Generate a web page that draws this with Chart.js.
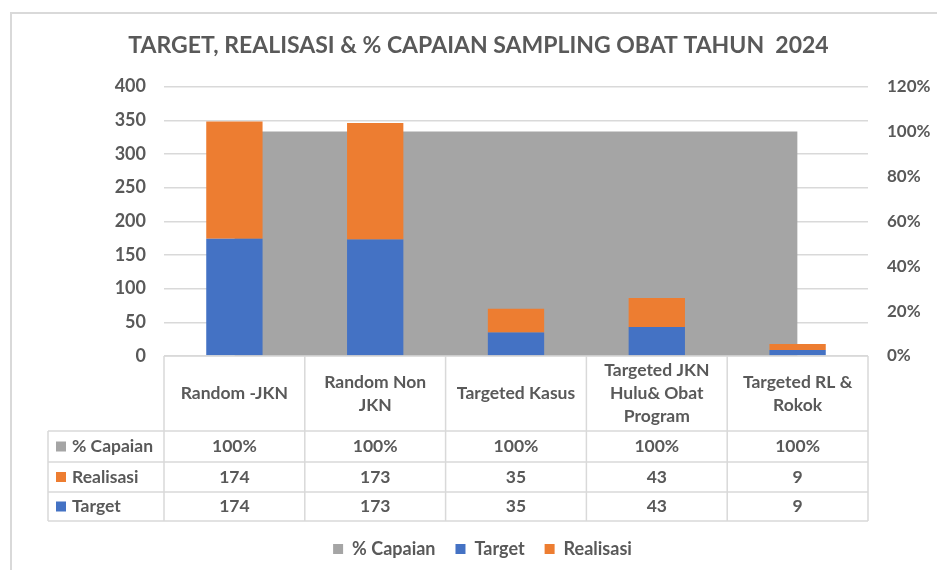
<!DOCTYPE html>
<html>
<head>
<meta charset="utf-8">
<script src="https://cdn.jsdelivr.net/npm/chart.js@4.4.0/dist/chart.umd.min.js"></script>
<style>
  html, body { margin: 0; padding: 0; background: #fff; }
  canvas { display: block; }
</style>
</head>
<body>
<canvas id="samplingChart" width="937" height="570"></canvas>
<script>
// Data
const categories = [['Random -JKN'], ['Random Non', 'JKN'], ['Targeted Kasus'], ['Targeted JKN', 'Hulu& Obat', 'Program'], ['Targeted RL &', 'Rokok']];
const target = [174, 173, 35, 43, 9];
const realisasi = [174, 173, 35, 43, 9];
const capaian = [100, 100, 100, 100, 100];
const leftTicks = [0, 50, 100, 150, 200, 250, 300, 350, 400];
const rightTicks = [0, 20, 40, 60, 80, 100, 120];

const textColor = '#595959';
const gridColor = '#D9D9D9';
const colors = { capaian: '#A5A5A5', target: '#4472C4', realisasi: '#ED7D31' };
const fontFamily = 'Lato, "Open Sans", sans-serif';

// frame round the chart
const framePlugin = {
    id: 'frame',
    beforeDraw(chart) {
        const ctx = chart.ctx;
        ctx.save();
        ctx.fillStyle = '#fff';
        ctx.fillRect(0, 0, chart.width, chart.height);
        ctx.strokeStyle = gridColor;
        ctx.lineWidth = 2;
        ctx.beginPath();
        ctx.moveTo(11, chart.height);
        ctx.lineTo(11, 13);
        ctx.lineTo(chart.width, 13);
        ctx.stroke();
        ctx.restore();
    }
};

// title and legend sit a bit right of the canvas centre
const shiftPlugin = {
    id: 'shiftBoxes',
    afterLayout(chart) {
        if (chart.titleBlock) { chart.titleBlock.left += 20; chart.titleBlock.right += 0; }
        if (chart.legend) { chart.legend.left += 14; chart.legend.right += 14; }
    }
};

// data table under the plot
const tablePlugin = {
    id: 'dataTable',
    afterDraw(chart) {
        const ctx = chart.ctx;
        const area = chart.chartArea;
        const x = chart.scales.x;
        const step = (area.right - area.left) / categories.length;
        const top = area.bottom;
        const rowY = [top, top + 75, top + 106, top + 136, top + 165];
        const labelLeft = 48;

        ctx.save();
        ctx.strokeStyle = gridColor;
        ctx.lineWidth = 1.5;
        ctx.beginPath();
        // horizontal lines
        ctx.moveTo(area.left, rowY[0]); ctx.lineTo(area.right, rowY[0]);
        for (let r = 1; r < rowY.length; r++) {
            ctx.moveTo(labelLeft, rowY[r]); ctx.lineTo(area.right, rowY[r]);
        }
        // vertical lines
        for (let c = 0; c <= categories.length; c++) {
            const px = area.left + c * step;
            ctx.moveTo(px, rowY[0]); ctx.lineTo(px, rowY[4]);
        }
        ctx.moveTo(labelLeft, rowY[1]); ctx.lineTo(labelLeft, rowY[4]);
        ctx.stroke();

        ctx.fillStyle = textColor;
        ctx.font = 'bold 17.5px ' + fontFamily;
        ctx.textAlign = 'center';
        ctx.textBaseline = 'middle';

        // header
        const headMid = (rowY[0] + rowY[1]) / 2;
        categories.forEach((lines, i) => {
            const cx = x.getPixelForValue(i);
            const lh = 23;
            const startY = headMid - (lines.length - 1) * lh / 2;
            lines.forEach((line, j) => ctx.fillText(line, cx, startY + j * lh));
        });

        // rows
        const rows = [
            { name: '% Capaian', color: colors.capaian, values: capaian.map(v => v + '%') },
            { name: 'Realisasi', color: colors.realisasi, values: realisasi.map(String) },
            { name: 'Target', color: colors.target, values: target.map(String) }
        ];
        rows.forEach((row, r) => {
            const cy = (rowY[r + 1] + rowY[r + 2]) / 2;
            ctx.textAlign = 'center';
            ctx.fillStyle = textColor;
            row.values.forEach((v, i) => ctx.fillText(v, x.getPixelForValue(i), cy));
            ctx.fillStyle = row.color;
            ctx.fillRect(56, cy - 5, 10, 10);
            ctx.fillStyle = textColor;
            ctx.textAlign = 'left';
            ctx.fillText(row.name, 72, cy);
        });
        ctx.restore();
    }
};

const ctx = document.getElementById('samplingChart').getContext('2d');
new Chart(ctx, {
    type: 'bar',
    data: {
        labels: categories,
        datasets: [{
            type: 'line',
            label: '% Capaian',
            data: capaian,
            yAxisID: 'y2',
            backgroundColor: colors.capaian,
            borderColor: colors.capaian,
            borderWidth: 0,
            pointRadius: 0,
            fill: 'origin',
            order: 2
        }, {
            label: 'Target',
            data: target,
            backgroundColor: colors.target,
            stack: 'a',
            order: 1
        }, {
            label: 'Realisasi',
            data: realisasi,
            backgroundColor: colors.realisasi,
            stack: 'a',
            order: 1
        }]
    },
    options: {
        responsive: false,
        animation: false,
        barPercentage: 0.4,
        categoryPercentage: 1,
        layout: { padding: { left: 0, right: 0, top: 0, bottom: 2 } },
        plugins: {
            title: {
                display: true,
                text: 'TARGET, REALISASI & % CAPAIAN SAMPLING OBAT TAHUN  2024',
                color: textColor,
                font: { family: fontFamily, size: 23, weight: 'bold' },
                padding: { top: 32, bottom: 27 }
            },
            legend: {
                position: 'bottom',
                labels: {
                    color: textColor,
                    font: { family: fontFamily, size: 18, weight: 'bold' },
                    boxWidth: 10,
                    boxHeight: 10,
                    padding: 20,
                    sort: (a, b) => a.datasetIndex - b.datasetIndex
                }
            },
            tooltip: { enabled: false }
        },
        scales: {
            x: {
                stacked: true,
                ticks: { display: false },
                grid: { display: false },
                border: { display: false },
                afterFit(scale) { scale.height = 164; }
            },
            y: {
                stacked: true,
                min: leftTicks[0],
                max: leftTicks[leftTicks.length - 1],
                afterBuildTicks(scale) { scale.ticks = leftTicks.map(v => ({ value: v })); },
                ticks: { color: textColor, font: { family: fontFamily, size: 18, weight: 'bold' }, padding: 18 },
                grid: { color: gridColor, lineWidth: 1.5, drawTicks: false },
                border: { display: false },
                afterFit(scale) { scale.width = 164; }
            },
            y2: {
                position: 'right',
                min: rightTicks[0],
                max: rightTicks[rightTicks.length - 1],
                afterBuildTicks(scale) { scale.ticks = rightTicks.map(v => ({ value: v })); },
                ticks: { color: textColor, font: { family: fontFamily, size: 17, weight: 'bold' }, padding: 19, callback: v => v + '%' },
                grid: { display: false, drawTicks: false },
                border: { display: false },
                afterFit(scale) { scale.width = 69; }
            }
        }
    },
    plugins: [framePlugin, shiftPlugin, tablePlugin]
});
</script>
</body>
</html>
